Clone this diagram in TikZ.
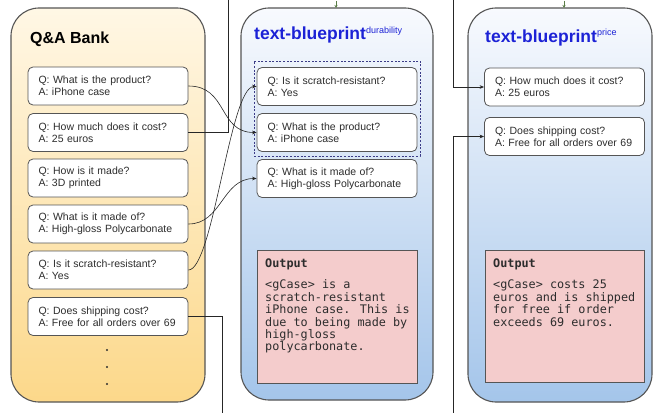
\documentclass[tikz,border=0pt]{standalone}
\usepackage{fontspec}
\setmainfont{Liberation Sans}
\newfontfamily\outmono{DejaVu Sans Mono}
\usetikzlibrary{arrows.meta}
\definecolor{yelTop}{RGB}{255,247,229}
\definecolor{yelBot}{RGB}{252,216,138}
\definecolor{bluTop}{RGB}{248,250,254}
\definecolor{bluBot}{RGB}{164,197,234}
\definecolor{edge}{RGB}{85,85,85}
\definecolor{ttl}{RGB}{28,34,214}
\definecolor{outfill}{RGB}{244,204,204}
\definecolor{tipgreen}{RGB}{90,125,70}
\definecolor{txt}{RGB}{45,45,45}
\begin{document}
\begin{tikzpicture}[x=1pt,y=-1pt,
  panel/.style={draw=edge, line width=1.1pt, rounded corners=28pt, inner sep=0pt},
  yelpanel/.style={panel, top color=yelTop, bottom color=yelBot},
  blupanel/.style={panel, top color=bluTop, bottom color=bluBot},
  qabox/.style={draw=edge, line width=0.8pt, fill=white, rounded corners=5pt,
    minimum width=160pt, minimum height=38pt, text width=139pt, inner xsep=10.5pt,
    inner ysep=0pt, align=left, font=\fontsize{10.5}{12}\selectfont, text=txt},
  grpbox/.style={draw=edge!70!blue, dash pattern=on 2pt off 1.6pt, line width=0.6pt,
    minimum width=166pt, minimum height=95pt, inner sep=0pt},
  bankttl/.style={anchor=base west, inner sep=0pt, font=\fontsize{16}{19}\selectfont\bfseries, text=black},
  bpttl/.style={anchor=base west, inner sep=0pt, font=\fontsize{17.5}{20}\selectfont\bfseries, text=ttl},
  outbox/.style={draw=edge, line width=0.8pt, fill=outfill, minimum width=160pt,
    minimum height=133pt, inner sep=0pt},
  outtext/.style={anchor=north west, inner sep=0pt, align=left,
    font=\outmono\fontsize{11.8}{12.4}\selectfont, text=txt},
  dotnode/.style={circle, fill=txt, inner sep=0pt, minimum size=2.2pt},
  arr/.style={draw=black!85, line width=0.6pt, -{Stealth[length=4.5pt,width=3.6pt]}},
  greentip/.style={draw=tipgreen, line width=0.9pt, -{Stealth[length=3pt,width=3pt]}}
]
\useasboundingbox (0,0) rectangle (655,412);
\clip (0,0) rectangle (655,412);

% panels
\node[yelpanel, minimum width=194pt, minimum height=394pt] (bank) at (108,205) {};
\node[blupanel, minimum width=192pt, minimum height=392pt] (mid) at (337,204) {};
\node[blupanel, minimum width=184pt, minimum height=394pt] (right) at (560,205) {};

% titles
\node[bankttl] (bankt) at (30,44) {Q\&A Bank};
\node[bpttl] (midt) at (254,40) {text-blueprint\raisebox{6.5pt}{\fontsize{9}{10}\selectfont\mdseries durability}};
\node[bpttl] (rightt) at (485,42) {text-blueprint\raisebox{6.5pt}{\fontsize{9}{10}\selectfont\mdseries price}};

% Q&A bank boxes
\node[qabox] (qa1) at (108,86)    {Q: What is the product?\\A: iPhone case};
\node[qabox] (qa2) at (108,132.5) {Q: How much does it cost?\\A: 25 euros};
\node[qabox] (qa3) at (108,178)   {Q: How is it made?\\A: 3D printed};
\node[qabox] (qa4) at (108,224)   {Q: What is it made of?\\A: High-gloss Polycarbonate};
\node[qabox] (qa5) at (108,270)   {Q: Is it scratch-resistant?\\A: Yes};
\node[qabox] (qa6) at (108,316.5) {Q: Does shipping cost?\\A: Free for all orders over 69};
\node[dotnode] (d1) at (107,350) {};
\node[dotnode] (d2) at (107,367) {};
\node[dotnode] (d3) at (107,384) {};

% durability blueprint
\node[grpbox] (grp) at (337,108.5) {};
\node[qabox] (mb1) at (337,86.5)  {Q: Is it scratch-resistant?\\A: Yes};
\node[qabox] (mb2) at (337,132.5) {Q: What is the product?\\A: iPhone case};
\node[qabox] (mb3) at (337,178.5) {Q: What is it made of?\\A: High-gloss Polycarbonate};
\node[outbox] (outm) at (337,316.5) {};
\node[outtext] (outmt) at (265,258.5) {\bfseries Output\\[9pt]
<gCase> is a\\scratch-resistant\\iPhone case. This is\\due to being made by\\high-gloss\\polycarbonate.};

% price blueprint
\node[qabox] (pb1) at (564.5,87)    {Q: How much does it cost?\\A: 25 euros};
\node[qabox] (pb2) at (564.5,136.5) {Q: Does shipping cost?\\A: Free for all orders over 69};
\node[outbox, minimum width=159pt, minimum height=132pt] (outr) at (564.5,316) {};
\node[outtext] (outrt) at (493,258.5) {\bfseries Output\\[9pt]
<gCase> costs 25\\euros and is shipped\\for free if order\\exceeds 69 euros.};

% connectors
\draw[arr] (qa1.east) .. controls (228,86) and (218,132.5) .. (mb2.west);
\draw[arr] (qa4.east) .. controls (222,224) and (222,178.5) .. (mb3.west);
\draw[arr] (qa5.east) .. controls (213,270) and (230,86.5) .. (mb1.west);

\coordinate (t1) at (228,-20);
\coordinate (t2) at (453,-20);
\draw[arr] (qa2.east) -| (t1) -- (t2) |- (pb1.west);
\coordinate (b1) at (222,430);
\coordinate (b2) at (453,430);
\draw[arr] (qa6.east) -| (b1) -- (b2) |- (pb2.west);

% cropped incoming tips at the top of the blueprint panels
\coordinate (g1a) at (336,1);
\coordinate (g1b) at (336,8);
\coordinate (g2a) at (564,1);
\coordinate (g2b) at (564,8);
\draw[greentip] (g1a) -- (g1b);
\draw[greentip] (g2a) -- (g2b);
\end{tikzpicture}
\end{document}
